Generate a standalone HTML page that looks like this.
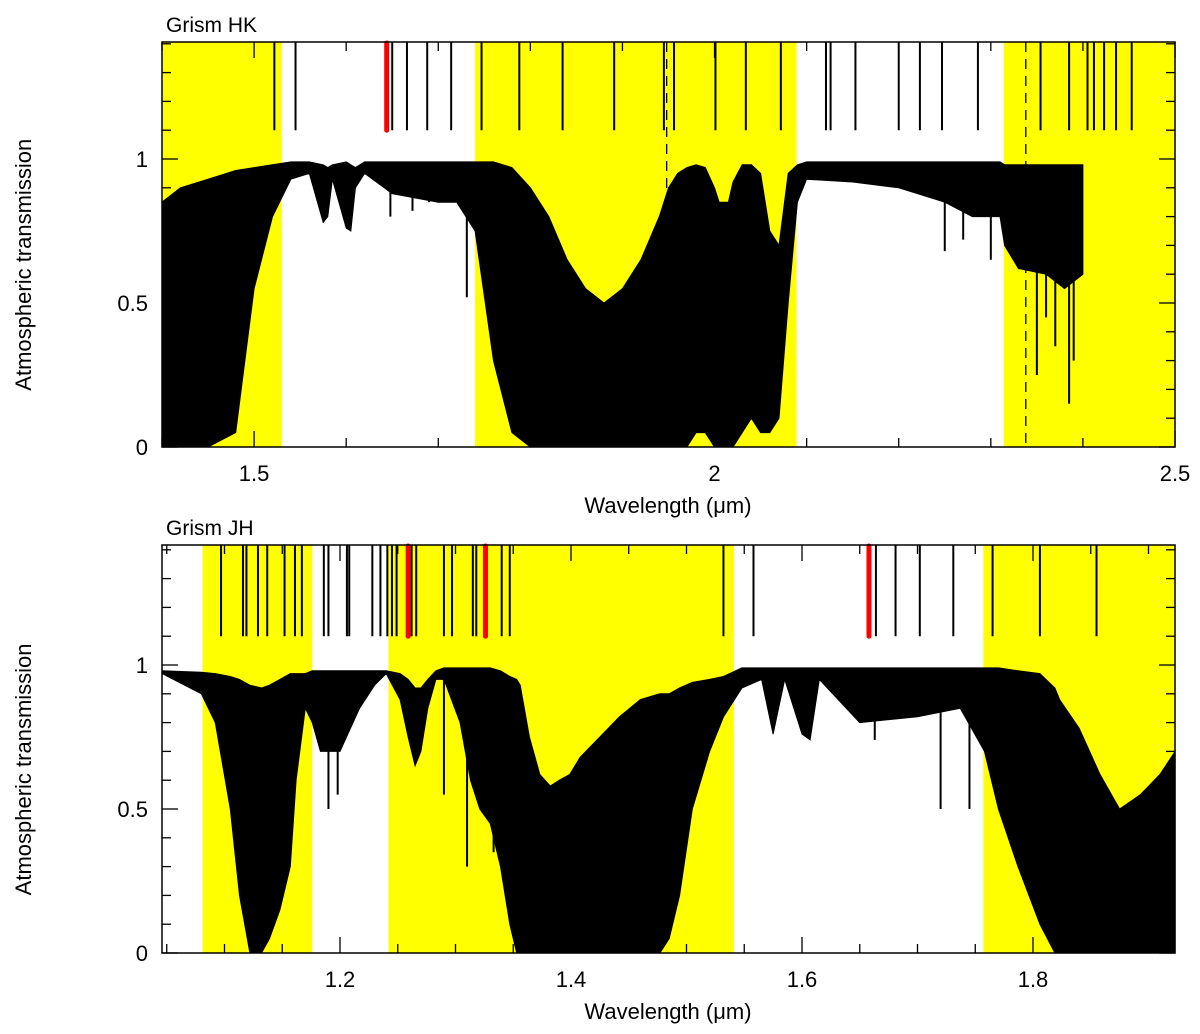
<!DOCTYPE html>
<html><head><meta charset="utf-8"><style>
html,body{margin:0;padding:0;background:#fff}
svg{display:block}
text{font-family:"Liberation Sans",sans-serif;fill:#000}
</style></head><body>
<svg id="chart" width="1200" height="1034" viewBox="0 0 1200 1034" xmlns="http://www.w3.org/2000/svg"></svg>
<script>
// ---- HK panel data ----
const hkBands = [[1.400,1.530],[1.740,2.089],[2.314,2.5]];
const hkWave = [1.400,1.42,1.45,1.48,1.50,1.52,1.54,1.56,1.575,1.58,1.585,1.60,1.605,1.61,1.62,1.65,1.70,1.72,1.74,1.76,1.78,1.80,1.82,1.84,1.86,1.88,1.90,1.92,1.94,1.95,1.96,1.97,1.98,1.99,2.00,2.005,2.015,2.02,2.03,2.04,2.05,2.06,2.07,2.08,2.09,2.10,2.15,2.20,2.25,2.28,2.31,2.315,2.33,2.36,2.38,2.40];
const hkHi = [0.85,0.9,0.93,0.96,0.97,0.98,0.99,0.99,0.98,0.97,0.98,0.99,0.98,0.97,0.99,0.99,0.99,0.99,0.99,0.99,0.97,0.9,0.8,0.65,0.55,0.5,0.55,0.65,0.8,0.9,0.95,0.97,0.98,0.97,0.9,0.85,0.85,0.92,0.98,0.98,0.95,0.75,0.7,0.95,0.98,0.99,0.99,0.99,0.99,0.99,0.99,0.98,0.98,0.98,0.98,0.98];
const hkLo = [0,0,0,0.05,0.55,0.8,0.93,0.95,0.78,0.8,0.93,0.76,0.75,0.9,0.95,0.88,0.85,0.85,0.75,0.3,0.05,0,0,0,0,0,0,0,0,0,0,0,0.05,0.05,0,0,0,0,0.05,0.1,0.05,0.05,0.1,0.5,0.85,0.93,0.92,0.9,0.85,0.8,0.8,0.7,0.62,0.6,0.55,0.6];
const hkSpikeW = [1.731,1.648,1.672,1.69,2.25,2.27,2.3,2.36,2.37,2.39,2.35,2.385];
const hkSpikeV = [0.52,0.8,0.82,0.85,0.68,0.72,0.65,0.45,0.35,0.3,0.25,0.15];
const hkMarkers = [1.522,1.545,1.650,1.666,1.688,1.714,1.747,1.788,1.835,1.891,1.945,1.956,2.001,2.034,2.072,2.121,2.126,2.153,2.200,2.223,2.247,2.286,2.354,2.385,2.405,2.412,2.423,2.436,2.453];
const hkRed = [1.644];
const hkDashed = [1.948,2.338];
const hkXTicks = [1.5,2,2.5];
const hkXLabels = ["1.5","2","2.5"];
// ---- JH panel data ----
const jhBands = [[1.081,1.176],[1.242,1.541],[1.757,1.923]];
const jhWave = [1.046,1.08,1.092,1.105,1.113,1.122,1.132,1.139,1.148,1.157,1.162,1.17,1.176,1.183,1.20,1.217,1.23,1.24,1.252,1.259,1.265,1.27,1.276,1.283,1.29,1.304,1.313,1.321,1.33,1.339,1.347,1.353,1.356,1.364,1.373,1.382,1.39,1.399,1.408,1.425,1.442,1.46,1.477,1.485,1.494,1.505,1.52,1.532,1.548,1.565,1.575,1.585,1.60,1.607,1.615,1.65,1.70,1.737,1.758,1.77,1.787,1.806,1.819,1.823,1.84,1.858,1.875,1.893,1.91,1.923];
const jhHi = [0.98,0.975,0.97,0.96,0.95,0.93,0.92,0.93,0.95,0.97,0.97,0.97,0.98,0.98,0.98,0.98,0.98,0.98,0.97,0.95,0.92,0.92,0.95,0.98,0.99,0.99,0.99,0.99,0.99,0.98,0.96,0.95,0.93,0.75,0.62,0.58,0.6,0.62,0.68,0.75,0.82,0.88,0.9,0.9,0.92,0.94,0.95,0.96,0.99,0.99,0.99,0.99,0.99,0.99,0.99,0.99,0.99,0.99,0.99,0.99,0.98,0.97,0.92,0.88,0.78,0.62,0.5,0.55,0.62,0.7];
const jhLo = [0.97,0.9,0.8,0.5,0.2,0,0,0.05,0.15,0.3,0.6,0.85,0.8,0.7,0.7,0.85,0.93,0.97,0.88,0.75,0.65,0.7,0.85,0.95,0.95,0.8,0.6,0.5,0.45,0.3,0.1,0,0,0,0,0,0,0,0,0,0,0,0,0.05,0.2,0.5,0.7,0.82,0.92,0.95,0.76,0.95,0.76,0.74,0.95,0.8,0.82,0.85,0.7,0.5,0.3,0.1,0,0,0,0,0,0,0,0];
const jhSpikeW = [1.19,1.198,1.29,1.31,1.333,1.663,1.72,1.745];
const jhSpikeV = [0.5,0.55,0.55,0.3,0.35,0.74,0.5,0.5];
const jhMarkers = [1.097,1.116,1.119,1.129,1.137,1.152,1.161,1.167,1.186,1.190,1.206,1.208,1.228,1.235,1.241,1.245,1.249,1.262,1.266,1.290,1.297,1.315,1.318,1.340,1.347,1.532,1.558,1.664,1.681,1.702,1.731,1.765,1.806,1.855];
const jhRed = [1.259,1.326,1.658];
const jhDashed = [];
const jhXTicks = [1.2,1.4,1.6,1.8];
const jhXLabels = ["1.2","1.4","1.6","1.8"];
const yTicks = [0,0.5,1];
const yLabels = ["0","0.5","1"];

const NS="http://www.w3.org/2000/svg";
const svg=document.getElementById('chart');
function el(tag,attrs,parent){const e=document.createElementNS(NS,tag);for(const k in attrs)e.setAttribute(k,attrs[k]);(parent||svg).appendChild(e);return e;}

function panel(p){
  const X=w=>p.x0+(w-p.w0)*p.sx;
  const Y=v=>p.y0-v*288;
  const g=el('g',{});
  
  
  p.bands.forEach(b=>{
    const r=el('rect',{x:X(b[0]),y:p.top,width:X(b[1])-X(b[0]),height:p.y0-p.top,fill:'#ffff00'},g);
    
    
  });
  let d='M'+X(p.wave[0])+','+Y(p.hi[0]);
  for(let i=1;i<p.wave.length;i++)d+='L'+X(p.wave[i]).toFixed(1)+','+Y(p.hi[i]).toFixed(1);
  for(let i=p.wave.length-1;i>=0;i--)d+='L'+X(p.wave[i]).toFixed(1)+','+Y(p.lo[i]).toFixed(1);
  d+='Z';
  const sp=el('path',{d:d,fill:'#000',stroke:'#000','stroke-width':1},g);
  
  
  p.spW.forEach((w,i)=>{
    const l=el('line',{x1:X(w),x2:X(w),y1:Y(0.98),y2:Y(p.spV[i]),stroke:'#000','stroke-width':2},g);
    
    
  });
  p.markers.forEach(w=>{
    const l=el('line',{x1:X(w),x2:X(w),y1:p.top,y2:Y(1.1),stroke:'#000','stroke-width':2},g);
    
    
  });
  p.dashed.forEach(w=>{
    const l=el('line',{x1:X(w),x2:X(w),y1:p.top,y2:p.y0,stroke:'#000','stroke-width':1.3,'stroke-dasharray':'10,7'},g);
    
    
  });
  p.red.forEach(w=>{
    const l=el('line',{x1:X(w),x2:X(w),y1:p.top+1,y2:Y(1.1),stroke:'#ff0000','stroke-width':5,'stroke-linecap':'round'},g);
    
    
  });
  const fr=el('rect',{x:p.x0,y:p.top,width:p.x1-p.x0,height:p.y0-p.top,fill:'none',stroke:'#000','stroke-width':1.5},g);
  
  
  for(let k=0;k<=14;k++){
    const v=k/10,len=(k%5==0)?16:9;
    el('line',{x1:p.x0,x2:p.x0+len,y1:Y(v),y2:Y(v),stroke:'#000','stroke-width':1.3},g);
    el('line',{x1:p.x1,x2:p.x1-len,y1:Y(v),y2:Y(v),stroke:'#000','stroke-width':1.3},g);
  }
  yTicks.forEach((v,i)=>{
    const t=el('text',{x:p.x0-14,y:Y(v)+8,'text-anchor':'end','font-size':22},g);
    t.textContent=yLabels[i];
    
    
  });
  for(let w=Math.ceil(p.w0/p.minor-1e-6)*p.minor;w<=p.w1+1e-6;w+=p.minor){
    const major=p.xTicks.some(t=>Math.abs(t-w)<1e-6);
    const len=major?16:9;
    el('line',{x1:X(w),x2:X(w),y1:p.y0,y2:p.y0-len,stroke:'#000','stroke-width':1.3},g);
    el('line',{x1:X(w),x2:X(w),y1:p.top,y2:p.top+len,stroke:'#000','stroke-width':1.3},g);
  }
  p.xTicks.forEach((w,i)=>{
    const t=el('text',{x:X(w),y:p.y0+34,'text-anchor':'middle','font-size':22},g);
    t.textContent=p.xLabels[i];
    
    
  });
  const xt=el('text',{x:668,y:p.y0+66,'text-anchor':'middle','font-size':22},g);
  xt.textContent='Wavelength (μm)';
  
  
  const cy=(p.top+p.y0)/2+(p.y0-p.top)*0.05;
  const yt=el('text',{x:31,y:cy,'text-anchor':'middle','font-size':22,transform:'rotate(-90 31 '+cy+')'},g);
  yt.textContent='Atmospheric transmission';
  
  
  const tt=el('text',{x:166,y:p.top-10,'font-size':21},g);
  tt.textContent=p.title;
  
  
}

panel({name:'grism-hk-panel',title:'Grism HK',x0:162,x1:1175,w0:1.4,w1:2.5,sx:1013/1.1,top:42,y0:447,minor:0.1,
  bands:hkBands,wave:hkWave,hi:hkHi,lo:hkLo,spW:hkSpikeW,spV:hkSpikeV,markers:hkMarkers,red:hkRed,dashed:hkDashed,xTicks:hkXTicks,xLabels:hkXLabels});
panel({name:'grism-jh-panel',title:'Grism JH',x0:162,x1:1175,w0:1.2-178/1155,w1:1.2+835/1155,sx:1155,top:545,y0:953,minor:0.05,
  bands:jhBands,wave:jhWave,hi:jhHi,lo:jhLo,spW:jhSpikeW,spV:jhSpikeV,markers:jhMarkers,red:jhRed,dashed:jhDashed,xTicks:jhXTicks,xLabels:jhXLabels});
</script>
</body></html>
